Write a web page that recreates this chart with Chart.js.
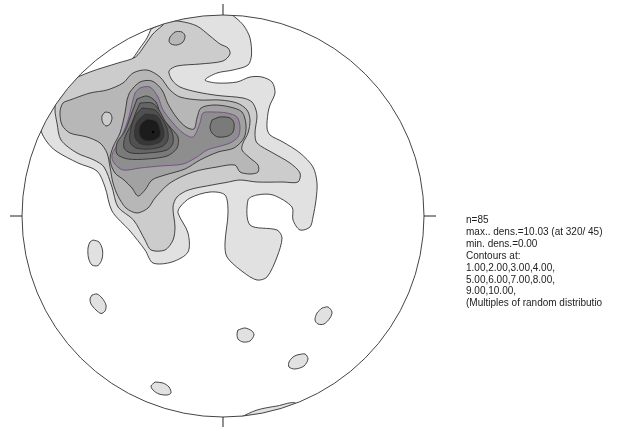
<!DOCTYPE html>
<html>
<head>
<meta charset="utf-8">
<script src="https://cdn.jsdelivr.net/npm/chart.js@4/dist/chart.umd.min.js"></script>
<style>
  html, body { margin: 0; padding: 0; background: #fff; }
</style>
</head>
<body>
<canvas id="net" width="618" height="427"></canvas>
<script>
// equal-area net, radius in plot units (centre 0,0)
const R = 201

// density contours (multiples of random distribution), polygons of [east, north]
const mrd1 = [[-72,187],[-58,194],[-43,198],[-23,201],[-8,203],[5,203],[13,198],[21,190],[27,178],[28.5,161],[25,151],[10,146],[-6,143],[-18,136],[-6,133],[14,134],[27,139],[39,139],[49,134],[52,123],[47,111],[45,103],[44,88],[47,81],[60,74],[77,63],[90,49],[94,33],[93,16],[90,-1],[87,-11],[77,-14],[70,-4],[69,9],[50,21],[34,21],[25,16],[27,-9],[54,-14],[59,-22],[54,-41],[44,-61],[34,-64],[20,-56],[4,-41],[2,-27],[5,3],[2,21],[-13,24],[-33,18],[-43,9],[-45,3],[-35,-17],[-35,-36],[-51,-46],[-70,-47],[-78,-34],[-93,-15],[-111,5],[-118,29],[-126,45],[-145,53],[-167,65],[-176,74],[-182,86],[-179,98],[-173,108],[-163,118],[-150,126],[-133,134],[-116,141],[-100,148],[-90,158],[-83,168],[-76,178]]
const mrd1Spots = [
  [[-130,-24],[-124,-26],[-120.5,-34],[-121,-43],[-125,-49.5],[-131,-49],[-134.5,-42],[-135,-32],[-133,-26]],
  [[-131,-79],[-126,-78],[-121,-82],[-117,-89],[-118,-95],[-122,-97.5],[-127,-94],[-132,-88],[-133,-83]],
  [[15,-114],[22,-112],[29,-115],[31,-119],[27,-125],[20,-126],[15,-123],[14,-118]],
  [[99,-92],[105,-91],[109,-96],[107,-102],[101,-108],[95,-108],[92,-104],[94,-97]],
  [[74,-139],[82,-138],[85,-143],[81,-150],[72,-153],[66,-151],[66,-146],[70,-141]],
  [[-68,-166],[-60,-167],[-54,-171],[-52,-177],[-56,-179],[-64,-178],[-70,-174],[-72,-170]],
  [[17,-201.5],[34,-194],[54,-190],[73,-187.5],[73,-212],[17,-212]]
]
const mrd2 = [[-61,190],[-56,195],[-42,194.5],[-26,190],[-13,180],[-3,172],[5,168],[7,162],[0,155],[-23,152],[-46,150],[-54,145],[-51,136],[-43,129],[-26,124],[-5,120.5],[20,118],[29,114],[33,106],[34,99],[32,83],[34,73],[50,63],[67,53],[77,43],[75,34],[60,34],[34,34],[17,36],[3,33.5],[-11,31],[-34.5,26],[-46,19],[-50,9],[-48,-11],[-50,-24],[-58,-34],[-72,-34],[-78,-24],[-89.5,-4],[-105,9],[-111,29],[-119,49],[-129,56],[-146,63],[-162,76],[-166,93],[-168,106],[-166,119],[-156,133],[-133,144],[-105,153],[-87.5,159],[-78,171],[-71,181],[-66,186]]
const mrd2Hole = [[-118,104],[-113,103],[-111,98],[-113,92],[-117,90],[-120.5,94],[-121,100]]
const mrd3 = [[-153,116],[-133,123],[-116,126],[-100,133],[-90,143],[-76,146],[-63,139],[-53,126],[-43,119],[-23,116],[-3,116],[14,113],[24,106],[27,96],[25,83],[20,73],[19,66],[27,58],[35,51],[35,44],[27,42],[17,44],[12,51],[-6,49],[-30,44],[-53,33],[-68,18],[-75,8],[-86,3],[-97,8],[-105,20],[-110,33],[-113,49],[-116,63],[-123,73],[-136,79],[-153,83],[-161,91],[-163,104],[-160,113]]
const mrd3Spot = [[-53,179],[-48,184],[-41,184],[-38,180],[-40,174],[-46,171],[-52,172],[-54,175]]
const mrd4 = [[-96,116],[-93,124],[-83,134],[-71,135],[-61,126],[-55,112],[-46,98],[-37,89],[-29,87],[-26,98],[-22,108],[-9,111],[7,109],[19,104],[23,91],[21,78],[11,68],[-5,64],[-23,56],[-38,47],[-58,41],[-71,36],[-78,26],[-85,20],[-91,28],[-99,36],[-108,43],[-113,56],[-110,69],[-103,83],[-98,103]]
const mrd5 = [[-88,123],[-83,128],[-73,129],[-65,119],[-60,106],[-50,93],[-40,83],[-30,79],[-23,93],[-20,103],[-10,104],[4,103],[14,99],[17,89],[15,79],[7,73],[-6,69],[-16,66],[-26,59],[-40,52],[-63,50],[-83,48],[-100,46],[-109,53],[-111,61],[-103,76],[-95,96],[-90,116]]
const mrd6 = [[-86,117],[-76,120],[-67,114],[-62,100],[-53,89],[-45,79],[-46,68],[-56,60],[-76,57],[-95,57],[-106,62],[-106,73],[-98,85],[-92,101]]
const mrd6Spot = [[-11,96],[-3,99],[7,98],[11,93],[10,84],[5,80],[-5,79],[-11,83],[-13,89]]
const mrd7 = [[-83,113],[-71,113],[-64,106],[-58,95],[-51,84],[-50,73],[-56,66],[-75,63],[-92,63],[-99,68],[-98,79],[-92,91],[-87,104]]
const mrd8 = [[-81,108],[-68,106],[-62,99],[-56,88],[-55,77],[-60,70],[-73,67],[-87,68],[-93,74],[-92,88],[-87,101]]
const mrd9 = [[-78,102],[-66,100],[-61,91],[-59,81],[-63,74],[-74,71],[-84,73],[-88.5,81],[-86,94]]
const mrd10 = [[-76,97],[-67,95],[-63,87],[-63,80],[-68,76],[-76,75],[-82,78],[-84,85],[-82,92]]
const maxPoint = [-70, 84]

const shades = ['#e1e1e1', '#cccccc', '#b7b7b7', '#a2a2a2', '#8e8e8e', '#7a7a7a', '#656565', '#505050', '#383838', '#1c1c1c']

const infoLines = [
  'n=85',
  'max.. dens.=10.03 (at 320/ 45)',
  'min. dens.=0.00',
  'Contours at:',
  '1.00,2.00,3.00,4.00,',
  '5.00,6.00,7.00,8.00,',
  '9.00,10.00,',
  '(Multiples of random distributio'
]

// drawing order: outer levels first
const layers = [[mrd1, 1]]
mrd1Spots.forEach(p => layers.push([p, 1]))
layers.push([mrd2, 2], [mrd3, 3], [mrd3Spot, 3], [mrd2Hole, 2], [mrd4, 4], [mrd5, 5],
  [mrd6, 6], [mrd6Spot, 6], [mrd7, 7], [mrd8, 8], [mrd9, 9], [mrd10, 10])

function ring(pts) {
  const d = pts.map(p => ({ x: p[0], y: p[1] }))
  d.push(d[0])
  return d
}

var datasets = layers.map((l, i) => ({
  data: ring(l[0]),
  showLine: true,
  fill: 'shape',
  backgroundColor: shades[l[1] - 1],
  borderColor: l[1] === 5 ? '#744a86' : '#333333',
  borderWidth: 0.9,
  pointRadius: 0,
  tension: 0.3,
  order: layers.length - i + 1
}))
datasets.push({
  data: [{ x: maxPoint[0], y: maxPoint[1] }],
  pointRadius: 1.2,
  backgroundColor: '#000',
  borderWidth: 0,
  order: 0
})

const netPlugin = {
  id: 'net',
  beforeDatasetsDraw(chart) {
    const { ctx, scales: { x, y } } = chart
    const cx = x.getPixelForValue(0), cy = y.getPixelForValue(0)
    ctx.save()
    ctx.beginPath()
    ctx.arc(cx, cy, x.getPixelForValue(R) - cx, 0, Math.PI * 2)
    ctx.clip()
  },
  afterDatasetsDraw(chart) {
    const { ctx, scales: { x, y } } = chart
    ctx.restore()
    const cx = x.getPixelForValue(0), cy = y.getPixelForValue(0)
    const r = x.getPixelForValue(R) - cx
    ctx.save()
    ctx.strokeStyle = '#444'
    ctx.lineWidth = 1
    ctx.beginPath()
    ctx.arc(cx, cy, r, 0, Math.PI * 2)
    ctx.stroke()
    // N, E, S, W ticks
    ctx.strokeStyle = '#222'
    ctx.beginPath()
    ctx.moveTo(cx, y.getPixelForValue(R)); ctx.lineTo(cx, y.getPixelForValue(R + 11))
    ctx.moveTo(cx, y.getPixelForValue(-R)); ctx.lineTo(cx, y.getPixelForValue(-R - 12))
    ctx.moveTo(x.getPixelForValue(-R), cy); ctx.lineTo(x.getPixelForValue(-R - 12), cy)
    ctx.moveTo(x.getPixelForValue(R), cy); ctx.lineTo(x.getPixelForValue(R + 12), cy)
    ctx.stroke()
    // statistics block
    ctx.fillStyle = '#222'
    ctx.font = "10px 'Liberation Sans', Arial, sans-serif"
    ctx.textBaseline = 'middle'
    infoLines.forEach((t, i) => ctx.fillText(t, 466, 220.5 + i * 11.85))
    ctx.restore()
  }
}

new Chart(document.getElementById('net'), {
  type: 'scatter',
  data: { datasets: datasets },
  options: {
    responsive: false,
    animation: false,
    events: [],
    layout: { padding: { left: 22, right: 194, top: 15, bottom: 10 } },
    scales: {
      x: { type: 'linear', min: -R, max: R, display: false },
      y: { type: 'linear', min: -R, max: R, display: false }
    },
    plugins: { legend: { display: false }, tooltip: { enabled: false } }
  },
  plugins: [netPlugin]
})
</script>
</body>
</html>
